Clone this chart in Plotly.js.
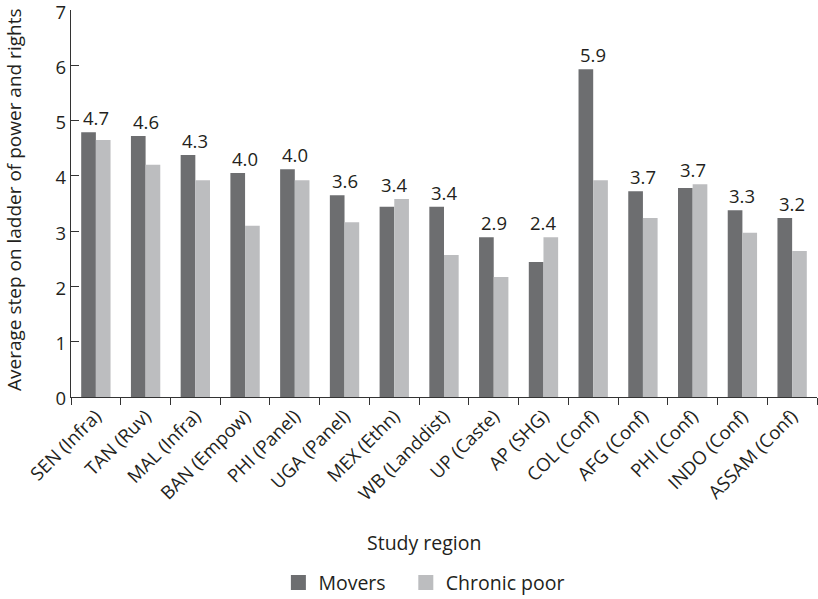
<!DOCTYPE html>
<html>
<head>
<meta charset="utf-8">
<script src="https://cdn.plot.ly/plotly-3.0.1.min.js"></script>
<style>html,body{margin:0;padding:0;background:#fff;}#chart{width:818px;height:599px;}</style>
</head>
<body>
<div id="chart"></div>
<script>
var categories = ["SEN (Infra)","TAN (Ruv)","MAL (Infra)","BAN (Empow)","PHI (Panel)","UGA (Panel)","MEX (Ethn)","WB (Landdist)","UP (Caste)","AP (SHG)","COL (Conf)","AFG (Conf)","PHI (Conf)","INDO (Conf)","ASSAM (Conf)"];
var movers = [4.79,4.72,4.38,4.05,4.12,3.65,3.44,3.44,2.89,2.44,5.93,3.72,3.78,3.38,3.24];
var chronicPoor = [4.65,4.20,3.92,3.10,3.92,3.16,3.58,2.57,2.17,2.89,3.92,3.24,3.85,2.97,2.64];
var labelValues = ["4.7","4.6","4.3","4.0","4.0","3.6","3.4","3.4","2.9","2.4","5.9","3.7","3.7","3.3","3.2"];
var yTicks = [0,1,2,3,4,5,6,7];
var seriesNames = ["Movers","Chronic poor"];
var seriesColors = ["#6d6e70","#bcbdbf"];

var FONT = "Open Sans, Noto Sans, sans-serif";
var TXT = "#231f20";

var traces = [
  {type:"bar", name:seriesNames[0], x:categories, y:movers, marker:{color:seriesColors[0]}, hoverinfo:"skip", showlegend:false},
  {type:"bar", name:seriesNames[1], x:categories, y:chronicPoor, marker:{color:seriesColors[1]}, hoverinfo:"skip", showlegend:false}
];
// legend-only entries with larger square swatches
var legendPad = ["&nbsp;&nbsp;&nbsp;", ""];
seriesNames.forEach(function(n,i){
  traces.push({type:"scatter", mode:"markers", name:n + legendPad[i], x:[null], y:[null],
    marker:{symbol:"square", size:15, color:seriesColors[i]}, hoverinfo:"skip", showlegend:true});
});

var annotations = categories.map(function(c,i){
  return {x:c, y:Math.max(movers[i], chronicPoor[i]), xref:"x", yref:"y", text:labelValues[i],
    showarrow:false, yanchor:"bottom", yshift:0, font:{family:FONT, size:18.5, color:TXT}};
});
annotations.push({xref:"paper", yref:"paper", x:-0.0764, y:0.509, xanchor:"center", yanchor:"middle",
  textangle:-90, showarrow:false, text:"Average step on ladder of power and rights",
  font:{family:FONT, size:19, color:TXT}});
annotations.push({xref:"paper", yref:"paper", x:0.4745, y:-0.377, xanchor:"center", yanchor:"middle",
  showarrow:false, text:"Study region", font:{family:FONT, size:19.5, color:TXT}});

var layout = {
  width:818, height:599,
  margin:{l:71, r:1, t:10, b:202},
  paper_bgcolor:"#fff", plot_bgcolor:"#fff",
  font:{family:FONT, color:TXT},
  barmode:"group", bargap:0.41, bargroupgap:0,
  showlegend:true,
  legend:{orientation:"h", x:0.278, xanchor:"left", yref:"container", y:0.027, yanchor:"middle",
    font:{family:FONT, size:19.5, color:TXT}, itemwidth:30, traceorder:"normal"},
  xaxis:{
    type:"category", showline:true, linecolor:"#333", linewidth:1.2,
    ticks:"outside", ticklen:7, tickcolor:"#333", tickson:"boundaries",
    tickangle:-45, tickfont:{family:FONT, size:18.5, color:TXT},
    showgrid:false, zeroline:false, automargin:false
  },
  yaxis:{
    range:[0,7.001], tickmode:"array", tickvals:yTicks, ticktext:yTicks.map(String),
    showline:true, linecolor:"#333", linewidth:1.2,
    ticks:"inside", ticklen:8, tickcolor:"#333", ticklabeloverflow:"allow", ticklabelshift:2,
    tickfont:{family:FONT, size:18.5, color:TXT},
    showgrid:false, zeroline:false, automargin:false
  },
  annotations:annotations
};

Plotly.newPlot("chart", traces, layout, {displayModeBar:false, staticPlot:true});
</script>
</body>
</html>
